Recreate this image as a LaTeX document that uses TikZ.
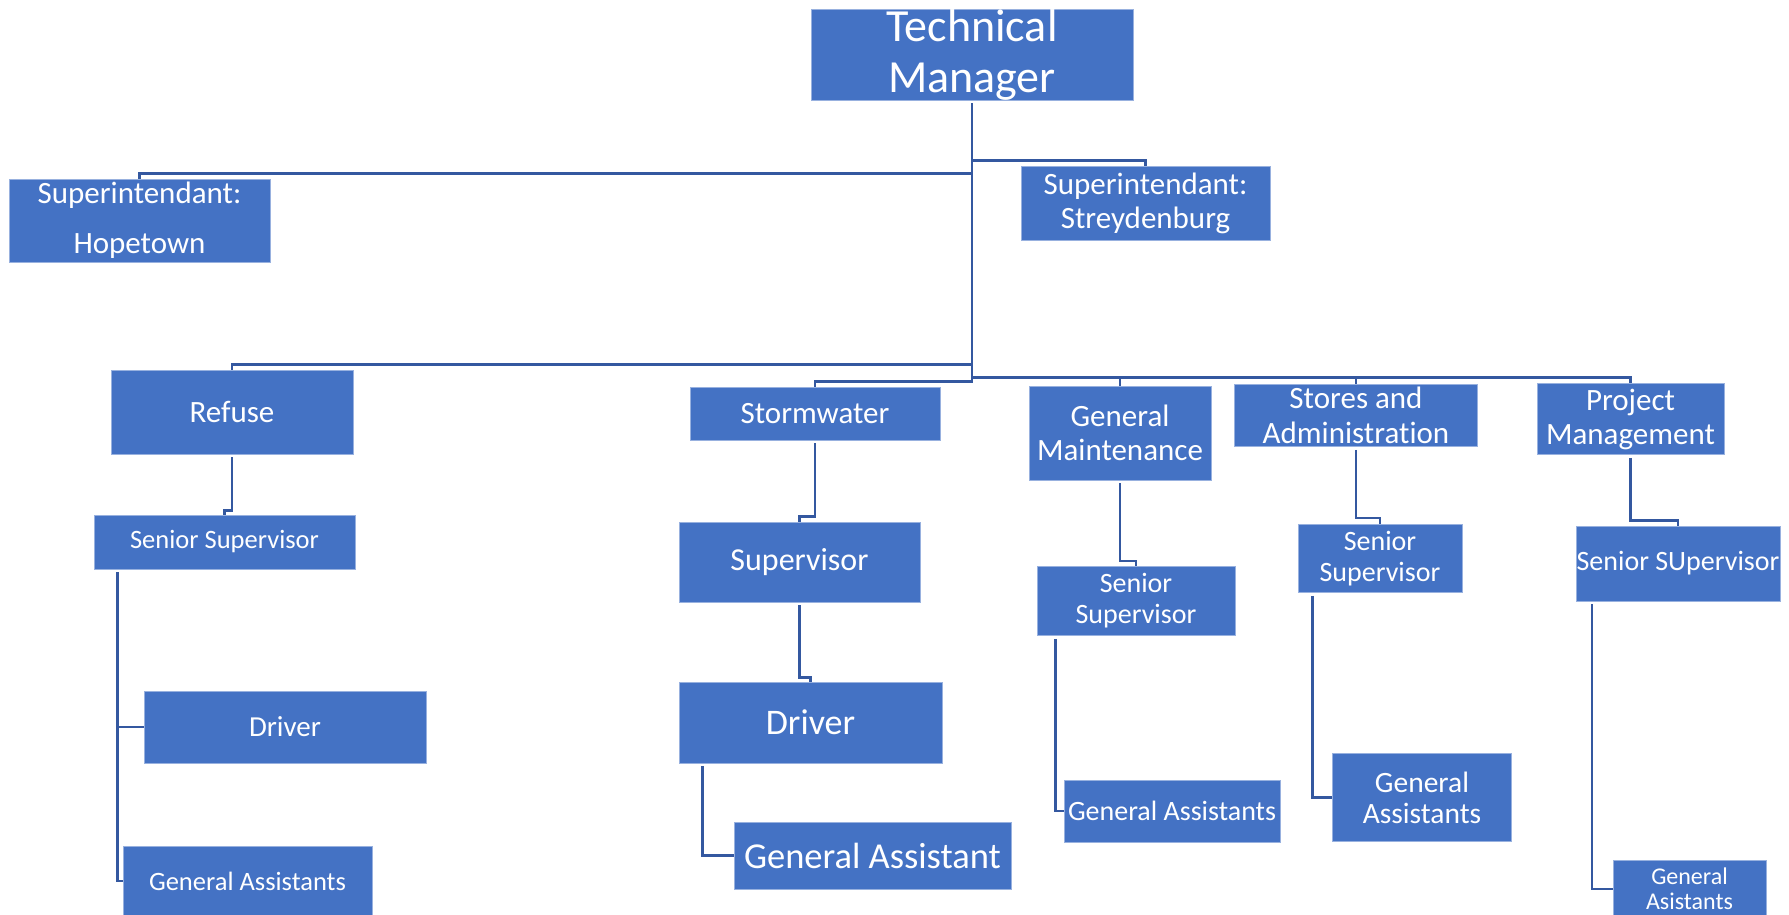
\documentclass[tikz,border=0pt]{standalone}
\usepackage{fontspec}
\setmainfont{Carlito}[Ligatures=NoCommon]
\definecolor{boxblue}{HTML}{4472C4}
\definecolor{lineblue}{RGB}{52,88,160}

\begin{document}
\begin{tikzpicture}[x=1pt, y=-1pt,
        box/.style 2 args={rectangle, fill=boxblue, draw=boxblue!55!white, line width=0.8pt,
            text=white, inner sep=0pt, align=center, minimum width=#1pt, minimum height=#2pt},
        fs/.style 2 args={font=\fontsize{#1}{#2}\selectfont},
        conn/.style={draw=lineblue, line width=2.6pt, shorten <=3pt}]
        \useasboundingbox (0,0) rectangle (1789,914);
        \node[box={322}{91}, fs={46}{51}] (tm) at (972,54.5) {Technical\\Manager};
        \node[box={261}{83}, fs={31}{50}] (hope) at (139.5,220.5) {Superintendant:\\Hopetown};
        \node[box={249}{74}, fs={31}{34}] (strey) at (1145.5,203) {Superintendant:\\Streydenburg};
        \node[box={242}{84}, fs={31}{34}] (refuse) at (232,412) {Refuse};
        \node[box={250}{53}, fs={31}{34}] (storm) at (815,413.5) {Stormwater};
        \node[box={182}{94}, fs={31}{34}] (genm) at (1120,433) {General\\Maintenance};
        \node[box={243}{62}, fs={31}{35}] (stores) at (1356,415.5) {Stores and\\Administration};
        \node[box={187}{71}, fs={31}{34}] (projm) at (1630.5,419) {Project\\Management};
        \node[box={261}{54}, fs={26.5}{30}] (ss1) at (224.5,542) {Senior Supervisor};
        \node[box={241}{80}, fs={32}{36}] (sup2) at (799.5,562) {Supervisor};
        \node[box={198}{69}, fs={28}{31}] (ss3) at (1136,601) {Senior\\Supervisor};
        \node[box={164}{68}, fs={28}{31}] (ss4) at (1380,558.5) {Senior\\Supervisor};
        \node[box={204}{75}, fs={28}{31}] (ss5) at (1678,563.5) {Senior SUpervisor};
        \node[box={282}{72}, fs={29}{32}] (drv1) at (285,727) {Driver};
        \node[box={263}{81}, fs={36}{40}] (drv2) at (810.5,722.5) {Driver};
        \node[box={249}{70}, fs={26.5}{30}] (ga1) at (247.5,881) {General Assistants};
        \node[box={277}{67}, fs={36.5}{40}] (ga2) at (872.5,855.5) {General Assistant};
        \node[box={216}{62}, fs={28}{31}] (ga3) at (1172,811) {General Assistants};
        \node[box={179}{88}, fs={29.5}{31}] (ga4) at (1422,797.5) {General\\Assistants};
        \node[box={153}{58}, fs={24}{25}] (ga5) at (1689.5,889) {General\\Asistants};
        \draw[conn] (tm.south) |- ([yshift=5pt]hope.north) -- (hope.north);
        \draw[conn] (tm.south) |- ([yshift=5pt]strey.north) -- (strey.north);
        \draw[conn] (tm.south) |- ([yshift=5pt]refuse.north) -- (refuse.north);
        \draw[conn] (tm.south) |- ([yshift=5pt]storm.north) -- (storm.north);
        \draw[conn] (tm.south) |- ([yshift=8pt]genm.north) -- (genm.north);
        \draw[conn] (tm.south) |- ([yshift=6.5pt]stores.north) -- (stores.north);
        \draw[conn] (tm.south) |- ([yshift=5.5pt]projm.north) -- (projm.north);
        \draw[conn] (refuse.south) |- ([yshift=4pt]ss1.north) -- (ss1.north);
        \draw[conn] (storm.south) |- ([yshift=5pt]sup2.north) -- (sup2.north);
        \draw[conn] (sup2.south) |- ([yshift=4pt]drv2.north) -- (drv2.north);
        \draw[conn] (genm.south) |- ([yshift=5pt]ss3.north) -- (ss3.north);
        \draw[conn] (stores.south) |- ([yshift=6pt]ss4.north) -- (ss4.north);
        \draw[conn] (projm.south) |- ([yshift=5pt]ss5.north) -- (ss5.north);
        \draw[conn] ([xshift=24pt]ss1.south west) |- (drv1.west);
        \draw[conn] ([xshift=24pt]ss1.south west) |- (ga1.west);
        \draw[conn] ([xshift=24pt]drv2.south west) |- (ga2.west);
        \draw[conn] ([xshift=19pt]ss3.south west) |- (ga3.west);
        \draw[conn] ([xshift=15pt]ss4.south west) |- (ga4.west);
        \draw[conn] ([xshift=16.5pt]ss5.south west) |- (ga5.west);
    \end{tikzpicture}
\end{document}
